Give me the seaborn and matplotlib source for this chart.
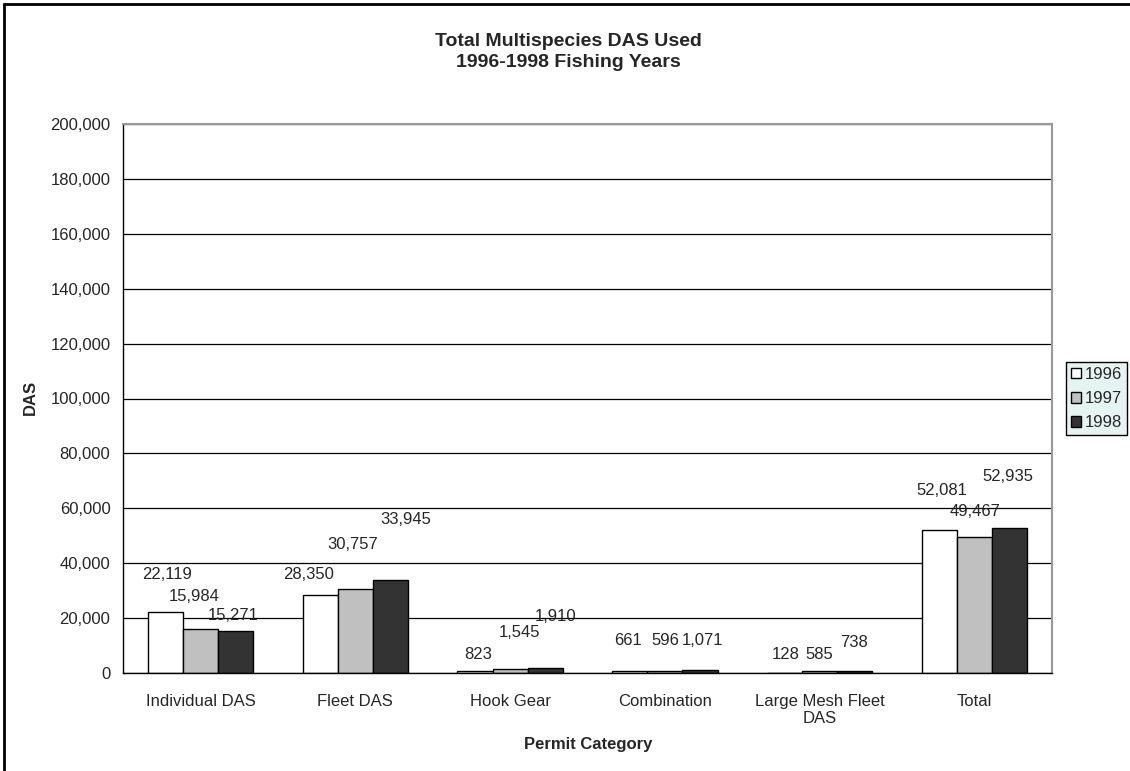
import matplotlib
matplotlib.use("Agg")
import matplotlib.pyplot as plt
import matplotlib.patches as mpatches
import matplotlib.ticker as mticker
import seaborn as sns
import pandas as pd

# chart data
categories = ["Individual DAS", "Fleet DAS", "Hook Gear", "Combination",
              "Large Mesh Fleet\nDAS", "Total"]
years = ["1996", "1997", "1998"]
das_1996 = [22119, 28350, 823, 661, 128, 52081]
das_1997 = [15984, 30757, 1545, 596, 585, 49467]
das_1998 = [15271, 33945, 1910, 1071, 738, 52935]
y_ticks = [0, 20000, 40000, 60000, 80000, 100000, 120000, 140000, 160000, 180000, 200000]

# label placement (pixels from bar top centre)
label_dy = [[38, 21, 16, 31, 18, 40],
            [33, 44, 36, 31, 17, 26],
            [16, 60, 51, 30, 28, 51]]
label_dx = [[2, -12, 3, -2, 1, 2],
            [-6, -3, 9, 0, 0, 0],
            [-2, 15, 10, 2, -1, -2]]

colors = ["#ffffff", "#c0c0c0", "#333333"]

rows = []
for yr, vals in zip(years, [das_1996, das_1997, das_1998]):
    for cat, v in zip(categories, vals):
        rows.append({"category": cat, "year": yr, "das": v})
df = pd.DataFrame(rows)

sns.set_style("white")
plt.rcParams["font.family"] = ["Liberation Sans", "DejaVu Sans"]

fig = plt.figure(figsize=(11.3, 7.71), dpi=100)
ax = fig.add_axes([123 / 1130, 1 - 673 / 771, (1052 - 123) / 1130, (673 - 124) / 771])

sns.barplot(data=df, x="category", y="das", hue="year", palette=colors,
            width=0.68, edgecolor="black", linewidth=1.0, ax=ax,
            legend=False, gap=0, saturation=1)

ax.set_ylim(0, 200000)
ax.set_xlim(-0.5, len(categories) - 0.5)
ax.set_yticks(y_ticks)
ax.yaxis.set_major_formatter(mticker.FuncFormatter(lambda v, p: f"{int(v):,}"))
ax.yaxis.grid(True, color="black", linewidth=0.9)
ax.set_axisbelow(True)

# x ticks between categories
ax.set_xticks(range(len(categories)))
ax.set_xticklabels(categories, fontsize=12)
ax.set_xticks([i - 0.5 for i in range(len(categories) + 1)], minor=True)
ax.tick_params(axis="x", which="major", length=0, pad=15)
ax.tick_params(axis="x", which="minor", length=5, width=1, color="black", direction="out")
ax.tick_params(axis="y", length=5, width=1, color="black", direction="out", labelsize=12, pad=4)

for s in ["left", "bottom"]:
    ax.spines[s].set_color("black")
    ax.spines[s].set_linewidth(1)
for s in ["top", "right"]:
    ax.spines[s].set_color("#999999")
    ax.spines[s].set_linewidth(1.5)

ax.set_xlabel("")
ax.set_ylabel("")

# data labels
for k, cont in enumerate(ax.containers):
    for j, bar in enumerate(cont):
        x = bar.get_x() + bar.get_width() / 2
        h = bar.get_height()
        ax.annotate(f"{int(h):,}", (x, h), xytext=(label_dx[k][j], label_dy[k][j]),
                    textcoords="offset pixels", ha="center", va="center", fontsize=12)

fig.text(568 / 1130, 1 - 52 / 771, "Total Multispecies DAS Used\n1996-1998 Fishing Years",
         ha="center", va="center", fontsize=14, fontweight="bold", linespacing=1.25)
fig.text(588 / 1130, 1 - 745 / 771, "Permit Category", ha="center", va="center",
         fontsize=12, fontweight="bold")
fig.text(30 / 1130, 1 - 397 / 771, "DAS", ha="center", va="center", rotation=90,
         fontsize=12, fontweight="bold")

handles = [mpatches.Patch(facecolor=c, edgecolor="black", linewidth=1) for c in colors]
leg = fig.legend(handles, years, loc="upper left", bbox_to_anchor=(1066 / 1130, 1 - 362 / 771),
                 frameon=True, fancybox=False, fontsize=12, handlelength=0.6, handleheight=0.6,
                 handletextpad=0.2, borderpad=0.3, labelspacing=0.55, borderaxespad=0)
leg.get_frame().set_facecolor("#e6f4f1")
leg.get_frame().set_edgecolor("black")
leg.get_frame().set_linewidth(1)
leg.get_frame().set_alpha(1)

# outer chart border
fig.patches.append(mpatches.Rectangle((4 / 1130, -0.05), 1.2, 1 - 4.5 / 771 + 0.05,
                                      transform=fig.transFigure, fill=False,
                                      edgecolor="black", linewidth=2))

fig.savefig("out.png", dpi=100)
